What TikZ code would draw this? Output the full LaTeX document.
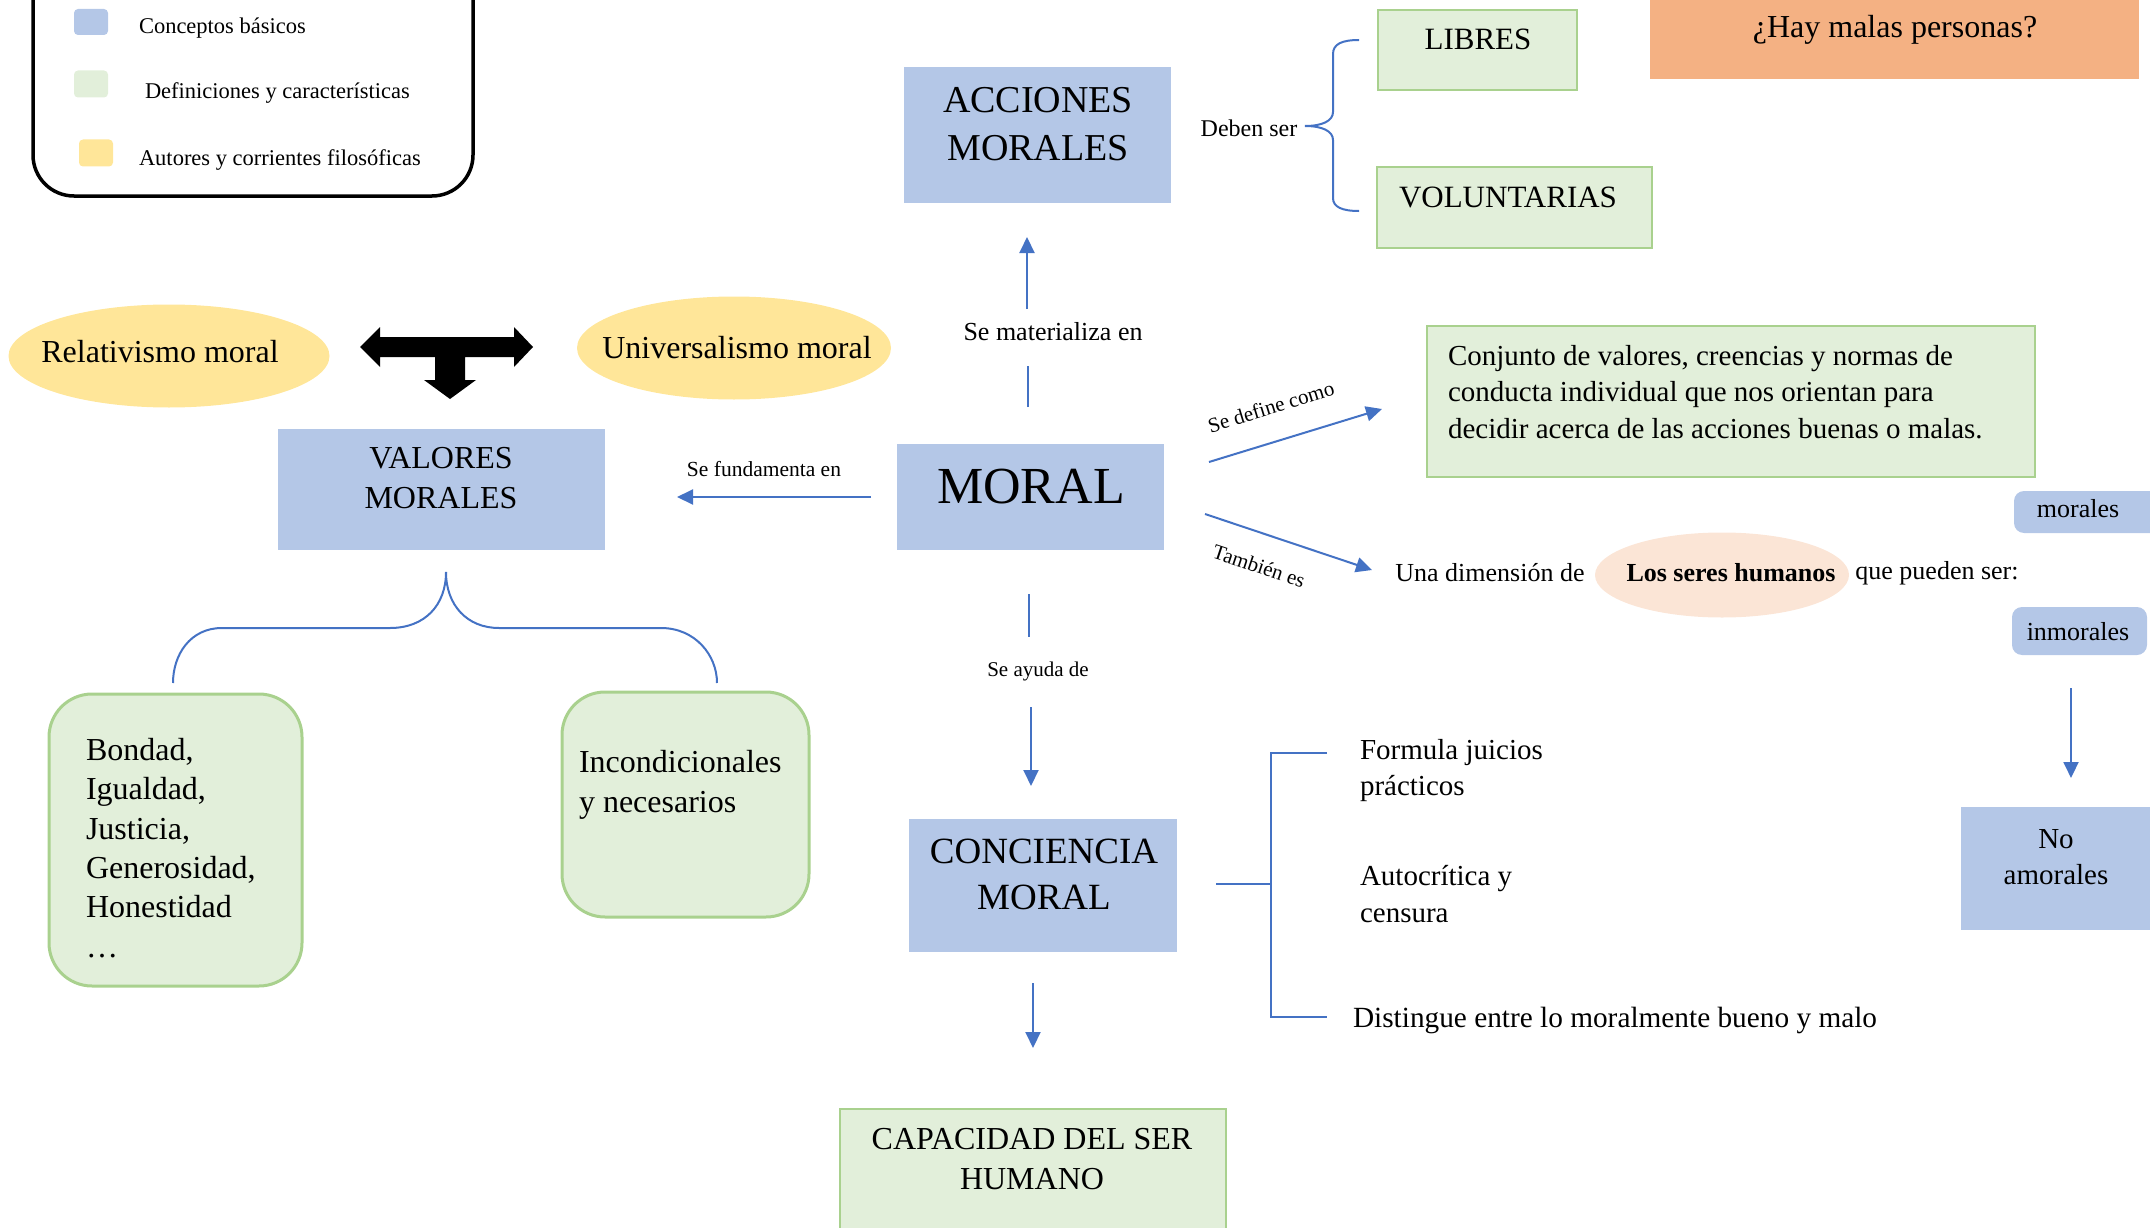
\documentclass[tikz,border=0pt]{standalone}
\usepackage{fontspec}
\setmainfont{Liberation Serif}
\usetikzlibrary{arrows.meta,shapes.geometric}
\definecolor{cblue}{HTML}{B4C7E7}
\definecolor{cgreen}{HTML}{E2EFDA}
\definecolor{cgreenb}{HTML}{A9D18E}
\definecolor{cyellow}{HTML}{FFE699}
\definecolor{corange}{HTML}{F4B183}
\definecolor{cpeach}{HTML}{FBE5D6}
\definecolor{cline}{HTML}{4472C4}
\newcommand\fsz[2]{\fontsize{#1}{#2}\selectfont}
\begin{document}
\begin{tikzpicture}[x=1pt,y=-1pt,
  t/.style={inner sep=0pt,outer sep=0pt},
  bbox/.style={fill=cblue,draw=none,inner sep=0pt,outer sep=0pt},
  gbox/.style={fill=cgreen,draw=cgreenb,line width=2.5pt,inner sep=0pt,outer sep=0pt},
  rgbox/.style={gbox,rounded corners=43pt,line width=3pt},
  ell/.style={ellipse,draw=none,inner sep=0pt,outer sep=0pt},
  arr/.style={draw=cline,line width=2pt,-{Triangle[length=16pt,width=15pt]}},
  ln/.style={draw=cline,line width=2pt},
]
\useasboundingbox (0,0) rectangle (2150,1228);
\clip (0,0) rectangle (2150,1228);

% legend
\draw[line width=3.5pt,rounded corners=41pt] (33,-80) rectangle (473,196);
\node[fill=cblue,rounded corners=4pt,minimum width=34pt,minimum height=26pt,inner sep=0pt] (lg1) at (91,22) {};
\node[fill=cgreen,rounded corners=4pt,minimum width=34pt,minimum height=27pt,inner sep=0pt] (lg2) at (91,84) {};
\node[fill=cyellow,rounded corners=4pt,minimum width=34pt,minimum height=27pt,inner sep=0pt] (lg3) at (96,153) {};
\node[t,anchor=west,font=\fsz{22.5}{26}] (lt1) at (139,28) {Conceptos básicos};
\node[t,anchor=west,font=\fsz{22.5}{26}] (lt2) at (145,93) {Definiciones y características};
\node[t,anchor=west,font=\fsz{22.5}{26}] (lt3) at (139,160) {Autores y corrientes filosóficas};

% top boxes
\node[bbox,minimum width=267pt,minimum height=136pt] (acc) at (1037.5,135) {};
\node[t,font=\fsz{38}{48},align=center] (acct) at (1038,124) {ACCIONES\\MORALES};
\node[gbox,minimum width=199pt,minimum height=80pt] (lib) at (1477.5,50) {};
\node[t,font=\fsz{31}{36}] (libt) at (1478,39) {LIBRES};
\node[gbox,minimum width=275pt,minimum height=81pt] (vol) at (1514.5,207.5) {};
\node[t,font=\fsz{31}{36}] (volt) at (1508,197) {VOLUNTARIAS};
\node[fill=corange,inner sep=0pt,minimum width=489pt,minimum height=89pt] (hay) at (1894.5,34.5) {};
\node[t,font=\fsz{32}{36}] (hayt) at (1895,30) {¿Hay malas personas?};

\node[t,font=\fsz{24}{28}] (deben) at (1249,128) {Deben ser};
\draw[ln] (1359,40) .. controls (1342,40) and (1333,44) .. (1333,54) -- (1333,112)
  .. controls (1333,121) and (1322,126) .. (1305,126)
  .. controls (1322,126) and (1333,131) .. (1333,140) -- (1333,198)
  .. controls (1333,207) and (1342,211) .. (1359,211);

% ellipses
\node[ell,fill=cyellow,minimum width=321pt,minimum height=103pt] (rel) at (169,356) {};
\node[t,font=\fsz{32}{36}] (relt) at (160,352) {Relativismo moral};
\node[ell,fill=cyellow,minimum width=314pt,minimum height=103pt] (uni) at (734,348) {};
\node[t,font=\fsz{32}{36}] (unit) at (737,348) {Universalismo moral};
\fill (360,347) -- (380,327) -- (380,337) -- (514,337) -- (514,327) -- (533,347)
  -- (514,367) -- (514,357) -- (465,357) -- (465,380) -- (476,380) -- (450,399)
  -- (424,380) -- (435,380) -- (435,357) -- (380,357) -- (380,367) -- cycle;

% valores
\node[bbox,minimum width=327pt,minimum height=121pt] (val) at (441.5,489.5) {};
\node[t,font=\fsz{32}{40},align=center] (valt) at (441,478) {VALORES\\MORALES};

% moral
\node[bbox,minimum width=267pt,minimum height=106pt] (mor) at (1030.5,497) {};
\node[t,font=\fsz{52}{56}] (mort) at (1031,487) {MORAL};

\node[t,font=\fsz{21.5}{26}] (fund) at (764,469) {Se fundamenta en};
\coordinate (f1) at (871,497); \coordinate (f2) at (677,497);
\draw[arr] (f1) -- (f2);

\node[t,font=\fsz{26}{30}] (mat) at (1053,332) {Se materializa en};
\coordinate (u1) at (1028,407); \coordinate (u2) at (1028,366);
\coordinate (u3) at (1027,309); \coordinate (u4) at (1027,237);
\draw[ln] (u1) -- (u2);
\draw[arr] (u3) -- (u4);

\node[t,font=\fsz{21}{26}] (ayu) at (1038,671) {Se ayuda de};
\coordinate (d1) at (1029,594); \coordinate (d2) at (1029,637);
\coordinate (d3) at (1031,707); \coordinate (d4) at (1031,786);
\draw[ln] (d1) -- (d2);
\draw[arr] (d3) -- (d4);

% definition
\node[gbox,minimum width=608pt,minimum height=151pt] (conj) at (1731,401.5) {};
\node[t,font=\fsz{29}{36.5},align=left,anchor=west] (conjt) at (1448,392) {Conjunto de valores, creencias y normas de\\conducta individual que nos orientan para\\decidir acerca de las acciones buenas o malas.};
\coordinate (s1) at (1209,462); \coordinate (s2) at (1382,409);
\draw[arr] (s1) -- (s2);
\node[t,font=\fsz{21}{26},rotate=17] (sdef) at (1271,407) {Se define como};

\coordinate (b1) at (1205,514); \coordinate (b2) at (1372,570);
\draw[arr] (b1) -- (b2);
\node[t,font=\fsz{21}{26},rotate=-18.5] (tamb) at (1259,566) {También es};

\node[t,font=\fsz{26}{30}] (una) at (1490,573) {Una dimensión de};
\node[ell,fill=cpeach,minimum width=254pt,minimum height=85pt] (ser) at (1722,575) {};
\node[t,font=\fsz{26}{30}\bfseries] (sert) at (1731,573) {Los seres humanos};
\node[t,font=\fsz{26}{30}] (que) at (1937,573) {que pueden ser:};

\node[bbox,rounded corners=10pt,minimum width=146pt,minimum height=42pt] (mrl) at (2087,512) {};
\node[t,font=\fsz{26}{30}] (mrlt) at (2078,509) {morales};
\node[bbox,rounded corners=10pt,minimum width=135pt,minimum height=48pt] (inm) at (2079.5,631) {};
\node[t,font=\fsz{26}{30}] (inmt) at (2078,632) {inmorales};
\coordinate (i1) at (2071,688); \coordinate (i2) at (2071,778);
\draw[arr] (i1) -- (i2);
\node[bbox,minimum width=199pt,minimum height=123pt] (noa) at (2060.5,868.5) {};
\node[t,font=\fsz{29}{36},align=center] (noat) at (2056,857) {No\\amorales};

% valores branches
\draw[ln] (446,572) .. controls (446,605) and (425,628) .. (390,628) -- (222,628)
  .. controls (190,628) and (173,655) .. (173,683);
\draw[ln] (446,572) .. controls (446,605) and (467,628) .. (499,628) -- (661,628)
  .. controls (695,628) and (717,655) .. (717,683);
\node[rgbox,minimum width=253pt,minimum height=292pt] (bon) at (175.5,840) {};
\node[t,font=\fsz{32}{39.3},align=left,anchor=west] (bont) at (86,848) {Bondad,\\Igualdad,\\Justicia,\\Generosidad,\\Honestidad\\…};
\node[rgbox,minimum width=247pt,minimum height=225pt] (inc) at (685.5,804.5) {};
\node[t,font=\fsz{32}{40},align=left,anchor=west] (inct) at (579,785) {Incondicionales\\y necesarios};

% conciencia
\node[bbox,minimum width=268pt,minimum height=133pt] (con) at (1043,885.5) {};
\node[t,font=\fsz{37}{46},align=center] (cont) at (1044,874) {CONCIENCIA\\MORAL};
\coordinate (c1) at (1216,884); \coordinate (c2) at (1271,884);
\coordinate (c3) at (1327,753); \coordinate (c4) at (1327,1017);
\draw[ln] (c1) -- (c2);
\draw[ln] (c3) -- (c3 -| c2) -- (c4 -| c2) -- (c4);
\node[t,font=\fsz{29}{36},align=left,anchor=west] (form) at (1360,771) {Formula juicios\\prácticos};
\node[t,font=\fsz{29}{37},align=left,anchor=west] (auto) at (1360,894) {Autocrítica y\\censura};
\node[t,font=\fsz{29.3}{36},anchor=west] (dist) at (1353,1020) {Distingue entre lo moralmente bueno y malo};

\coordinate (k1) at (1033,983); \coordinate (k2) at (1033,1048);
\draw[arr] (k1) -- (k2);
\node[gbox,minimum width=386pt,minimum height=131pt] (cap) at (1033,1174.5) {};
\node[t,font=\fsz{32}{40},align=center] (capt) at (1032,1159) {CAPACIDAD DEL SER\\HUMANO};
\end{tikzpicture}
\end{document}
